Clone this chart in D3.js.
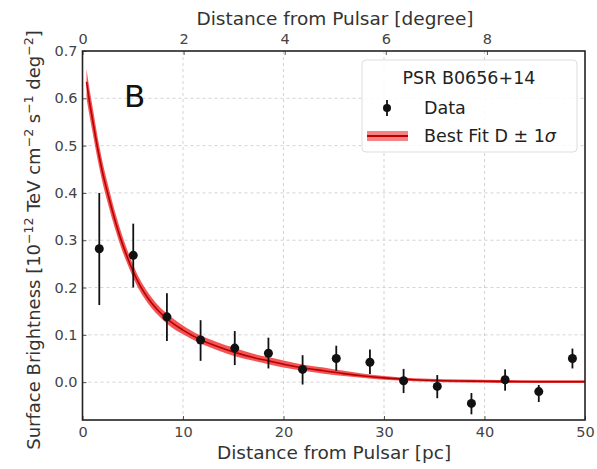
<!DOCTYPE html>
<html>
<head>
<meta charset="utf-8">
<script src="https://cdn.jsdelivr.net/npm/d3@7"></script>
<style>
  body { margin: 0; background: #fff; }
  svg text { font-family: "DejaVu Sans", sans-serif; }
</style>
</head>
<body>
<div id="chart"></div>
<script>
// data
var dataX = [1.67, 5.05, 8.4, 11.75, 15.15, 18.5, 21.9, 25.25, 28.6, 31.95, 35.3, 38.7, 42.05, 45.4, 48.75];
var dataY = [0.282, 0.268, 0.138, 0.089, 0.072, 0.061, 0.027, 0.050, 0.042, 0.003, -0.009, -0.045, 0.005, -0.020, 0.050];
var errLo = [0.163, 0.200, 0.087, 0.045, 0.036, 0.029, -0.005, 0.024, 0.017, -0.023, -0.034, -0.068, -0.018, -0.042, 0.029];
var errHi = [0.400, 0.335, 0.188, 0.131, 0.108, 0.094, 0.057, 0.077, 0.069, 0.028, 0.015, -0.023, 0.027, -0.006, 0.071];

// best fit curve and 1 sigma band
var fitX   = [0.4, 0.6, 1.0, 1.5, 2.0, 2.6, 3.2, 3.8, 4.5, 5.0, 5.7, 6.5, 7.5, 8.5, 10, 11.7, 13.5, 15, 17, 18.5, 20, 22, 24, 26, 28, 30, 33, 36, 40, 45, 50];
var fitMid = [0.635, 0.605, 0.555, 0.495, 0.443, 0.392, 0.345, 0.303, 0.262, 0.236, 0.205, 0.178, 0.152, 0.132, 0.110, 0.090, 0.075, 0.064, 0.052, 0.045, 0.038, 0.030, 0.024, 0.018, 0.013, 0.009, 0.005, 0.003, 0.002, 0.001, 0.001];
var fitLo  = [0.600, 0.575, 0.528, 0.471, 0.421, 0.372, 0.327, 0.287, 0.248, 0.223, 0.193, 0.167, 0.142, 0.122, 0.101, 0.082, 0.067, 0.056, 0.045, 0.038, 0.031, 0.024, 0.018, 0.013, 0.009, 0.005, 0.002, 0.000, -0.001, -0.002, -0.002];
var fitHi  = [0.662, 0.633, 0.582, 0.519, 0.465, 0.412, 0.363, 0.320, 0.277, 0.250, 0.218, 0.190, 0.163, 0.143, 0.120, 0.099, 0.084, 0.073, 0.060, 0.053, 0.046, 0.037, 0.031, 0.024, 0.018, 0.013, 0.008, 0.006, 0.005, 0.004, 0.004];

var yTicks = [0.0, 0.1, 0.2, 0.3, 0.4, 0.5, 0.6, 0.7];
var xTicks = [0, 10, 20, 30, 40, 50];
var degTicks = [0, 2, 4, 6, 8];
var pcPerDeg = 5.03;

var W = 597, H = 469;
var margin = {top: 51, right: 12, bottom: 49, left: 82.5};

var svg = d3.select("#chart").append("svg")
  .attr("width", W)
  .attr("height", H);

var x = d3.scaleLinear().domain([0, 50]).range([margin.left, W - margin.right]);
var xDeg = d3.scaleLinear().domain([0, 50 / pcPerDeg]).range([margin.left, W - margin.right]);
var y = d3.scaleLinear().domain([-0.08, 0.7]).range([H - margin.bottom, margin.top]);

// grid
var grid = svg.append("g");
grid.selectAll("line.gx")
  .data(xTicks.slice(1, -1))
  .enter().append("line")
  .attr("x1", d => x(d)).attr("x2", d => x(d))
  .attr("y1", y.range()[1]).attr("y2", y.range()[0])
  .attr("stroke", "#c8c8c8").attr("stroke-width", 0.8).attr("stroke-dasharray", "3,3");
grid.selectAll("line.gy")
  .data(yTicks.slice(0, -1))
  .enter().append("line")
  .attr("y1", d => y(d)).attr("y2", d => y(d))
  .attr("x1", x.range()[0]).attr("x2", x.range()[1])
  .attr("stroke", "#c8c8c8").attr("stroke-width", 0.8).attr("stroke-dasharray", "3,3");

// fit band + line
var fitData = fitX.map((d, i) => ({x: d, mid: fitMid[i], lo: fitLo[i], hi: fitHi[i]}));
svg.append("path")
  .datum(fitData)
  .attr("fill", "#ee2a2a")
  .attr("fill-opacity", 0.8)
  .attr("d", d3.area().curve(d3.curveMonotoneX)
    .x(d => x(d.x)).y0(d => y(d.lo)).y1(d => y(d.hi)));
svg.append("path")
  .datum(fitData)
  .attr("fill", "none")
  .attr("stroke", "#b80000")
  .attr("stroke-width", 1.6)
  .attr("d", d3.line().curve(d3.curveMonotoneX).x(d => x(d.x)).y(d => y(d.mid)));

// data points with error bars
var pts = dataX.map((d, i) => ({x: d, y: dataY[i], lo: errLo[i], hi: errHi[i]}));
svg.append("g").selectAll("line")
  .data(pts).enter().append("line")
  .attr("x1", d => x(d.x)).attr("x2", d => x(d.x))
  .attr("y1", d => y(d.lo)).attr("y2", d => y(d.hi))
  .attr("stroke", "#111").attr("stroke-width", 1.8);
svg.append("g").selectAll("circle")
  .data(pts).enter().append("circle")
  .attr("cx", d => x(d.x)).attr("cy", d => y(d.y))
  .attr("r", 4.5).attr("fill", "#111");

// axes (ticks pointing in)
var axB = svg.append("g")
  .attr("transform", "translate(0," + y.range()[0] + ")")
  .call(d3.axisBottom(x).tickValues(xTicks).tickSizeInner(-4).tickSizeOuter(0).tickPadding(7));
var axT = svg.append("g")
  .attr("transform", "translate(0," + y.range()[1] + ")")
  .call(d3.axisTop(xDeg).tickValues(degTicks).tickSizeInner(-4).tickSizeOuter(0).tickPadding(7));
var axL = svg.append("g")
  .attr("transform", "translate(" + x.range()[0] + ",0)")
  .call(d3.axisLeft(y).tickValues(yTicks).tickFormat(d3.format(".1f")).tickSizeInner(-4).tickSizeOuter(0).tickPadding(5));
[axB, axT, axL].forEach(function(a) {
  a.select(".domain").remove();
  a.selectAll(".tick line").attr("stroke", "#555");
  a.selectAll(".tick text").attr("fill", "#444").style("font-size", "14.5px");
});

// frame
svg.append("rect")
  .attr("x", x.range()[0]).attr("y", y.range()[1])
  .attr("width", x.range()[1] - x.range()[0])
  .attr("height", y.range()[0] - y.range()[1])
  .attr("fill", "none").attr("stroke", "#222").attr("stroke-width", 1.6);

// axis titles
svg.append("text")
  .attr("x", 334).attr("y", 459)
  .attr("text-anchor", "middle")
  .attr("fill", "#333")
  .style("font-size", "18.5px")
  .text("Distance from Pulsar [pc]");
svg.append("text")
  .attr("x", 335).attr("y", 25)
  .attr("text-anchor", "middle")
  .attr("fill", "#333")
  .style("font-size", "18.5px")
  .text("Distance from Pulsar [degree]");

var yl = svg.append("text")
  .attr("transform", "translate(40," + 240 + ") rotate(-90)")
  .attr("text-anchor", "middle")
  .attr("fill", "#333")
  .style("font-size", "18px");
yl.append("tspan").text("Surface Brightness [10");
yl.append("tspan").attr("dy", -7).style("font-size", "12.5px").text("\u221212");
yl.append("tspan").attr("dy", 7).text(" TeV cm");
yl.append("tspan").attr("dy", -7).style("font-size", "12.5px").text("\u22122");
yl.append("tspan").attr("dy", 7).text(" s");
yl.append("tspan").attr("dy", -7).style("font-size", "12.5px").text("\u22121");
yl.append("tspan").attr("dy", 7).text(" deg");
yl.append("tspan").attr("dy", -7).style("font-size", "12.5px").text("\u22122");
yl.append("tspan").attr("dy", 7).text("]");

// panel letter
svg.append("text")
  .attr("x", 124).attr("y", 107)
  .attr("fill", "#111")
  .style("font-size", "31px")
  .text("B");

// legend
var lg = svg.append("g");
lg.append("rect")
  .attr("x", 362).attr("y", 60).attr("width", 215).attr("height", 92)
  .attr("rx", 4)
  .attr("fill", "#fff").attr("fill-opacity", 0.85)
  .attr("stroke", "#ddd");
lg.append("text")
  .attr("x", 469).attr("y", 84)
  .attr("text-anchor", "middle")
  .attr("fill", "#222")
  .style("font-size", "17.5px")
  .text("PSR B0656+14");
lg.append("line")
  .attr("x1", 387).attr("x2", 387).attr("y1", 100).attr("y2", 116)
  .attr("stroke", "#111").attr("stroke-width", 1.8);
lg.append("circle").attr("cx", 387).attr("cy", 108).attr("r", 4).attr("fill", "#111");
lg.append("text")
  .attr("x", 424).attr("y", 114)
  .attr("fill", "#222")
  .style("font-size", "17.5px")
  .text("Data");
lg.append("rect")
  .attr("x", 367).attr("y", 131).attr("width", 41).attr("height", 10)
  .attr("fill", "#f03030").attr("fill-opacity", 0.6);
lg.append("line")
  .attr("x1", 367).attr("x2", 408).attr("y1", 136).attr("y2", 136)
  .attr("stroke", "#c00000").attr("stroke-width", 1.8);
var bf = lg.append("text")
  .attr("x", 424).attr("y", 142)
  .attr("fill", "#222")
  .style("font-size", "17.5px");
bf.append("tspan").text("Best Fit D \u00b1 1");
bf.append("tspan").style("font-style", "italic").text("\u03c3");
</script>
</body>
</html>
